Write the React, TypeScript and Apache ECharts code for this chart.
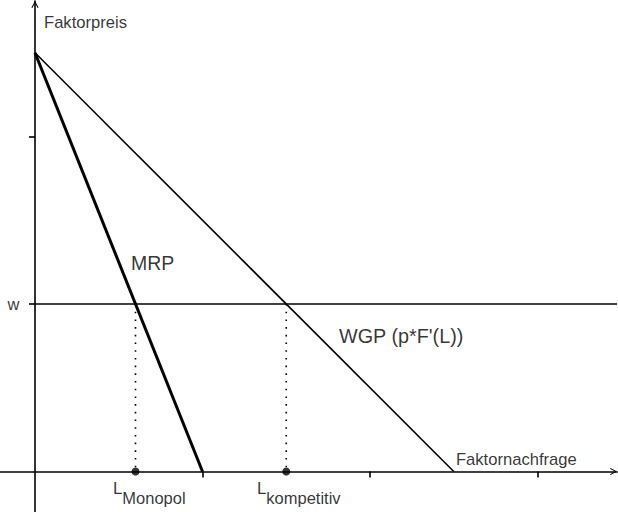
import React, { useEffect, useRef } from 'react';
import * as echarts from 'echarts';

// axis extents (data units)
const xRange = [-0.20896, 3.47463];
const yRange = [-0.2418, 2.809];
const xTickValues = [1, 2, 3];
const yTickValues = [1, 2];

// curves
const mrpCurve = [[0, 2.5], [1, 0]];
const wgpCurve = [[0, 2.5], [2.5, 0]];
const wageLevel = 1;
const employmentLevels = [0.6, 1.5];
const employmentNames = ['Monopol', 'kompetitiv'];

// text labels (anchor = left edge, vertical middle)
const curveLabelTexts = ['MRP', 'WGP (p*F\'(L))', 'Faktornachfrage', 'Faktorpreis', 'w'];
const curveLabelAnchors = [[0.5731, 1.2448], [1.815, 0.806], [2.513, 0.0725], [0.0537, 2.678], [-0.164, 1.0]];
const curveLabelSizes = [19.5, 19.8, 16.6, 16.6, 16.5];
const employmentLabelAnchors = [[0.4657, -0.1284], [1.3254, -0.1284]];

const FONT = '"Liberation Sans", Arial, Helvetica, sans-serif';

export default function App() {
  const ref = useRef<HTMLDivElement>(null);
  useEffect(() => {
    if (!ref.current) return;
    const chart = echarts.init(ref.current, undefined, { renderer: 'svg' });
    const arrow = 'path://M0,9 L5,0 L10,9 L8.7,9.7 L5,2.8 L1.3,9.7 Z';
    const axisLine = {
      show: true,
      onZero: true,
      lineStyle: { color: '#000', width: 1.6 },
      symbol: ['none', arrow],
      symbolSize: [11, 7],
      symbolOffset: [0, -3.5],
    };
    const tick = (values: number[]) => ({
      show: true,
      customValues: values,
      length: 6,
      lineStyle: { color: '#000', width: 1.6 },
    });
    const option: any = {
      animation: false,
      backgroundColor: '#fff',
      grid: { left: 0, right: 1, top: 1, bottom: 0, containLabel: false, outerBoundsMode: 'none' },
      xAxis: {
        type: 'value',
        min: xRange[0],
        max: xRange[1],
        axisLine,
        axisTick: tick(xTickValues),
        axisLabel: { show: false },
        splitLine: { show: false },
      },
      yAxis: {
        type: 'value',
        min: yRange[0],
        max: yRange[1],
        axisLine,
        axisTick: tick(yTickValues),
        axisLabel: { show: false },
        splitLine: { show: false },
      },
      series: [
        {
          type: 'line',
          data: mrpCurve,
          symbol: 'none',
          lineStyle: { color: '#000', width: 3 },
          silent: true,
        },
        {
          type: 'line',
          data: wgpCurve,
          symbol: 'none',
          lineStyle: { color: '#000', width: 1.6 },
          silent: true,
        },
        {
          type: 'line',
          data: [[0, wageLevel], [xRange[1], wageLevel]],
          symbol: 'none',
          lineStyle: { color: '#000', width: 1.6 },
          silent: true,
        },
        ...employmentLevels.map((l) => ({
          type: 'line',
          data: [[l, wageLevel], [l, 0]],
          symbol: 'none',
          lineStyle: { color: '#000', width: 1.6, type: [1.6, 6.1] },
          silent: true,
        })),
        {
          type: 'scatter',
          data: employmentLevels.map((l) => [l, 0]),
          symbol: 'circle',
          symbolSize: 8,
          itemStyle: { color: '#000' },
          silent: true,
          z: 5,
        },
        {
          type: 'scatter',
          symbolSize: 0,
          silent: true,
          clip: false,
          data: curveLabelTexts.map((t, i) => ({
            value: curveLabelAnchors[i],
            label: {
              show: true,
              position: 'right',
              distance: 0,
              formatter: t,
              color: '#000',
              fontSize: curveLabelSizes[i],
              fontFamily: FONT,
            },
          })),
        },
        {
          type: 'scatter',
          symbolSize: 0,
          silent: true,
          data: employmentNames.map((n, i) => ({
            value: employmentLabelAnchors[i],
            label: {
              show: true,
              position: 'right',
              distance: 0,
              formatter: `{a|L}{b|${n}}`,
              rich: {
                a: { fontSize: 16.8, fontFamily: FONT, color: '#000', padding: [0, 0, 10, 0] },
                b: { fontSize: 16.5, fontFamily: FONT, color: '#000', padding: [10, 0, 0, 0] },
              },
            },
          })),
        },
      ],
    };
    chart.setOption(option);
    return () => chart.dispose();
  }, []);
  return (
    <div
      ref={ref}
      style={{ position: 'absolute', left: 0, top: 0, width: 618, height: 512, background: '#fff' }}
    />
  );
}
